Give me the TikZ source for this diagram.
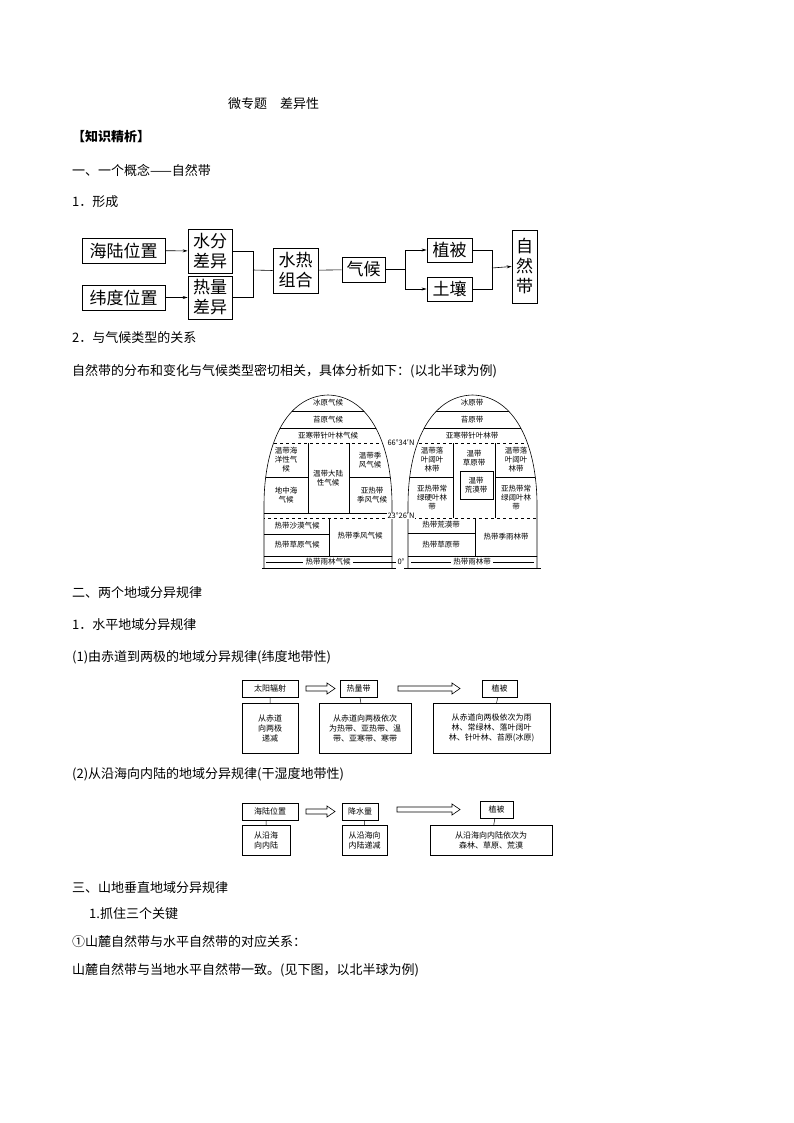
\documentclass[tikz,border=0pt]{standalone}
\usepackage{fontspec}
\setmainfont{Noto Sans CJK SC}
\usetikzlibrary{arrows.meta}
\begin{document}
\begin{tikzpicture}[x=1pt,y=-1pt,
 box/.style={draw,line width=0.8pt,inner sep=0pt,align=center},
 sbox/.style={draw,line width=0.5pt,inner sep=0pt,align=center,font=\fontsize{8}{10}\selectfont},
 txt/.style={anchor=west,inner sep=0pt,font=\fontsize{13}{15}\selectfont},
 dl/.style={inner sep=0pt,font=\fontsize{7.5}{9}\selectfont,align=center},
 arr/.style={-{Stealth[length=5pt,width=3pt]},line width=0.6pt},
 hol/.style={draw,line width=0.6pt,fill=white}]
\useasboundingbox (0,0) rectangle (794,1123);
% text
\node[txt] (t0) at (228,104) {微专题　差异性};
\node[txt,font=\fontsize{13}{15}\selectfont\bfseries] (t1) at (72,137) {【知识精析】};
\node[txt] (t2) at (72,170) {一、一个概念——自然带};
\node[txt] (t3) at (72,202) {1．形成};
\node[txt] (t4) at (72,338) {2．与气候类型的关系};
\node[txt] (t5) at (72,371) {自然带的分布和变化与气候类型密切相关，具体分析如下：(以北半球为例)};
\node[txt] (t6) at (72,593) {二、两个地域分异规律};
\node[txt] (t7) at (72,625) {1．水平地域分异规律};
\node[txt] (t8) at (72,657) {(1)由赤道到两极的地域分异规律(纬度地带性)};
\node[txt] (t9) at (72,774) {(2)从沿海向内陆的地域分异规律(干湿度地带性)};
\node[txt] (t10) at (72,888) {三、山地垂直地域分异规律};
\node[txt] (t11) at (89,914) {1.抓住三个关键};
\node[txt] (t12) at (72,942) {①山麓自然带与水平自然带的对应关系：};
\node[txt] (t13) at (72,970) {山麓自然带与当地水平自然带一致。(见下图，以北半球为例)};
% top flowchart
\begin{scope}[font=\fontsize{17}{20}\selectfont]
\node[box,minimum width=83,minimum height=25] (hl) at (123.5,250.5) {海陆位置};
\node[box,minimum width=83,minimum height=25] (wd) at (123.5,297.5) {纬度位置};
\node[box,minimum width=44,minimum height=44] (sf) at (210,251) {水分\\差异};
\node[box,minimum width=44,minimum height=43] (rl) at (210,297.5) {热量\\差异};
\node[box,minimum width=45,minimum height=45] (sr) at (295.5,270.5) {水热\\组合};
\node[box,minimum width=43,minimum height=25] (qh) at (363.5,269.5) {气候};
\node[box,minimum width=45,minimum height=24] (zb) at (449.5,250) {植被};
\node[box,minimum width=45,minimum height=24] (tr) at (449.5,289) {土壤};
\node[box,minimum width=25,minimum height=73] (zr) at (524.5,266.5) {自\\然\\带};
\end{scope}
\draw[arr] (hl) -- (sf);
\draw[arr] (wd) -- (rl);
\draw[line width=0.6pt] (sf.east) -| (253,270) (rl.east) -| (253,270);
\draw[line width=0.6pt] (253,270) -- (sr.west);
\draw[line width=0.6pt] (sr) -- (qh);
\draw[line width=0.6pt] (qh.east) -- (405,269.5);
\draw[arr] (405,269.5) |- (zb.west);
\draw[arr] (405,269.5) |- (tr.west);
\draw[line width=0.6pt] (zb.east) -| (492,268) (tr.east) -| (492,268);
\draw[arr] (492,268) -- (zr.west);
% domes
\def\dome#1#2{(#1,568) -- (#1,505) .. controls (#1,445) and ({#1+22},396) .. ({(#1+#2)/2},395) .. controls ({#2-22},396) and (#2,445) .. (#2,505) -- (#2,568)}
\begin{scope}[line width=0.6pt]
\begin{scope}
\clip \dome{264}{392} -- cycle;
\foreach \y in {411,428,513} \draw (250,\y) -- (400,\y);
\draw (250,534) -- (329,534);
\draw[dashed] (250,443) -- (400,443);
\draw[dashed] (250,518) -- (400,518);
\draw (250,556) -- (400,556);
\draw (308,443) -- (308,513);
\draw (349,443) -- (349,513);
\draw (250,477) -- (308,477);
\draw (349,477) -- (400,477);
\draw (329,518) -- (329,556);
\end{scope}
\draw \dome{264}{392};
\draw (262,568) -- (396,568);
\node[dl] (l1) at (328,403) {冰原气候};
\node[dl] (l2) at (328,420) {苔原气候};
\node[dl] (l3) at (328,436) {亚寒带针叶林气候};
\node[dl] (l4) at (286,460) {温带海\\洋性气\\候};
\node[dl] (l5) at (286,495) {地中海\\气候};
\node[dl] (l6) at (328,478) {温带大陆\\性气候};
\node[dl] (l7) at (370,460) {温带季\\风气候};
\node[dl] (l8) at (372,495) {亚热带\\季风气候};
\node[dl] (l9) at (297,526) {热带沙漠气候};
\node[dl] (l10) at (297,545) {热带草原气候};
\node[dl] (l11) at (360,536) {热带季风气候};
\node[dl,fill=white,inner xsep=2pt] (l12) at (328,562) {热带雨林气候};
\draw (266,562) -- (l12.west) (l12.east) -- (396,562);
\begin{scope}
\clip \dome{408}{537} -- cycle;
\foreach \y in {411,428,556} \draw (395,\y) -- (545,\y);
\draw[dashed] (395,443) -- (545,443);
\draw[dashed] (395,518) -- (545,518);
\draw (453,443) -- (453,518);
\draw (495,443) -- (495,518);
\draw (395,477) -- (453,477);
\draw (495,477) -- (545,477);
\draw (475,518) -- (475,556);
\draw (395,533) -- (475,533);
\end{scope}
\draw \dome{408}{537};
\draw (404,568) -- (541,568);
\draw (460,471) rectangle (493,499);
\node[dl] (r1) at (472,403) {冰原带};
\node[dl] (r2) at (472,420) {苔原带};
\node[dl] (r3) at (472,436) {亚寒带针叶林带};
\node[dl] (r4) at (432,460) {温带落\\叶阔叶\\林带};
\node[dl] (r5) at (432,498) {亚热带常\\绿硬叶林\\带};
\node[dl] (r6) at (474,458) {温带\\草原带};
\node[dl] (r7) at (476,485) {温带\\荒漠带};
\node[dl] (r8) at (516,460) {温带落\\叶阔叶\\林带};
\node[dl] (r9) at (516,498) {亚热带常\\绿阔叶林\\带};
\node[dl] (r10) at (441,525) {热带荒漠带};
\node[dl] (r11) at (441,545) {热带草原带};
\node[dl] (r12) at (506,537) {热带季雨林带};
\node[dl,fill=white,inner xsep=2pt] (r13) at (472,562) {热带雨林带};
\draw (411,562) -- (r13.west) (r13.east) -- (534,562);
\node[dl,fill=white,inner xsep=0.5pt] (g1) at (401,443) {66°34′N};
\node[dl,fill=white,inner xsep=0.5pt] (g2) at (401,516) {23°26′N};
\node[dl,fill=white,inner xsep=0.5pt] (g3) at (401,562) {0°};
\end{scope}
% lower chart 1
\node[sbox,minimum width=56,minimum height=17] (a1) at (270,688.5) {太阳辐射};
\node[sbox,minimum width=37,minimum height=17] (a2) at (358.5,688.5) {热量带};
\node[sbox,minimum width=35,minimum height=17] (a3) at (499.5,688.5) {植被};
\node[sbox,minimum width=56,minimum height=50] (b1) at (270,728) {从赤道\\向两极\\递减};
\node[sbox,minimum width=92,minimum height=50] (b2) at (365,728) {从赤道向两极依次\\为热带、亚热带、温\\带、亚寒带、寒带};
\node[sbox,minimum width=117,minimum height=50] (b3) at (491.5,728) {从赤道向两极依次为雨\\林、常绿林、落叶阔叶\\林、针叶林、苔原(冰原)};
\draw[line width=0.5pt] (a1) -- (b1) (a2) -- (b2) (a3) -- (b3);
\draw[hol] (306,686) -- (327,686) -- (327,683) -- (335,688.5) -- (327,694) -- (327,691) -- (306,691) -- cycle;
\draw[hol] (398,686) -- (452,686) -- (452,683) -- (460,688.5) -- (452,694) -- (452,691) -- (398,691) -- cycle;
% lower chart 2
\node[sbox,minimum width=56,minimum height=17] (c1) at (270,811.5) {海陆位置};
\node[sbox,minimum width=36,minimum height=17] (c2) at (360,811.5) {降水量};
\node[sbox,minimum width=33,minimum height=17] (c3) at (496.5,809.5) {植被};
\node[sbox,minimum width=48,minimum height=30] (d1) at (266,840) {从沿海\\向内陆};
\node[sbox,minimum width=45,minimum height=30] (d2) at (364.5,840) {从沿海向\\内陆递减};
\node[sbox,minimum width=122,minimum height=30] (d3) at (491,840) {从沿海向内陆依次为\\森林、草原、荒漠};
\draw[line width=0.5pt] (c1.south -| d1) -- (d1) (c2.south -| d2) -- (d2) (c3) -- (d3);
\draw[hol] (306,809) -- (327,809) -- (327,806) -- (335,811.5) -- (327,817) -- (327,814) -- (306,814) -- cycle;
\draw[hol] (397,807) -- (452,807) -- (452,804) -- (460,809.5) -- (452,815) -- (452,812) -- (397,812) -- cycle;
\end{tikzpicture}
\end{document}
